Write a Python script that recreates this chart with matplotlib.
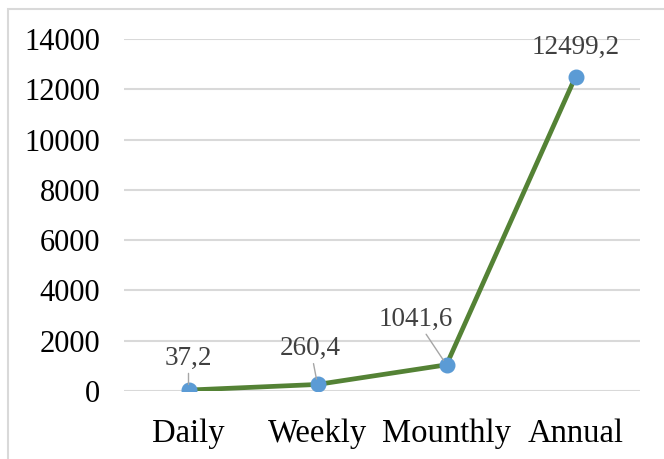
import matplotlib

matplotlib.use("Agg")

import matplotlib.pyplot as plt

categories = ["Daily", "Weekly", "Mounthly", "Annual"]
values = [37.2, 260.4, 1041.6, 12499.2]
value_labels = ["37,2", "260,4", "1041,6", "12499,2"]
yticks = [0, 2000, 4000, 6000, 8000, 10000, 12000, 14000]

# label offsets (points) relative to each marker, Excel-style leader lines
label_offsets = [(0, 14), (-5, 17), (-22, 24), (0, 12)]

plt.rcParams["font.family"] = ["Liberation Serif", "DejaVu Serif"]

fig = plt.figure(figsize=(6.64, 4.59), dpi=100)
ax = fig.add_axes([124 / 664, 1 - 391 / 459, (640 - 124) / 664, (391 - 39) / 459])

x = range(len(categories))
ax.plot(x, values, color="#548235", linewidth=3.4, zorder=2)
ax.plot(x, values, linestyle="none", marker="o", markersize=10.5,
        color="#5B9BD5", zorder=3)

for i, (v, lab) in enumerate(zip(values, value_labels)):
    dx, dy = label_offsets[i]
    leader = dict(arrowstyle="-", color="#A6A6A6", lw=1.0, shrinkA=0, shrinkB=4) if i < 3 else None
    ax.annotate(lab, xy=(i, v), xytext=(dx, dy), textcoords="offset points",
                ha="center", va="bottom", fontsize=19.5, color="#404040",
                arrowprops=leader, zorder=4)

ax.set_xlim(-0.5, len(categories) - 0.5)
ax.set_ylim(0, 14000)
ax.set_yticks(yticks)
ax.set_yticklabels([str(t) for t in yticks], fontsize=22)
ax.set_xticks(list(x))
ax.set_xticklabels(categories, fontsize=23.5)
ax.yaxis.grid(True, color="#D9D9D9", linewidth=1.5)
ax.set_axisbelow(True)
ax.tick_params(length=0)
ax.tick_params(axis="y", pad=17)
ax.tick_params(axis="x", pad=20)
for s in ax.spines.values():
    s.set_visible(False)

# outer chart frame
fig.patches.append(plt.Rectangle((8 / 664, -0.1), 1.0, 1 - 9 / 459 + 0.1,
                                 transform=fig.transFigure, fill=False,
                                 edgecolor="#D9D9D9", linewidth=1.5))

fig.savefig("out.png", dpi=100)
